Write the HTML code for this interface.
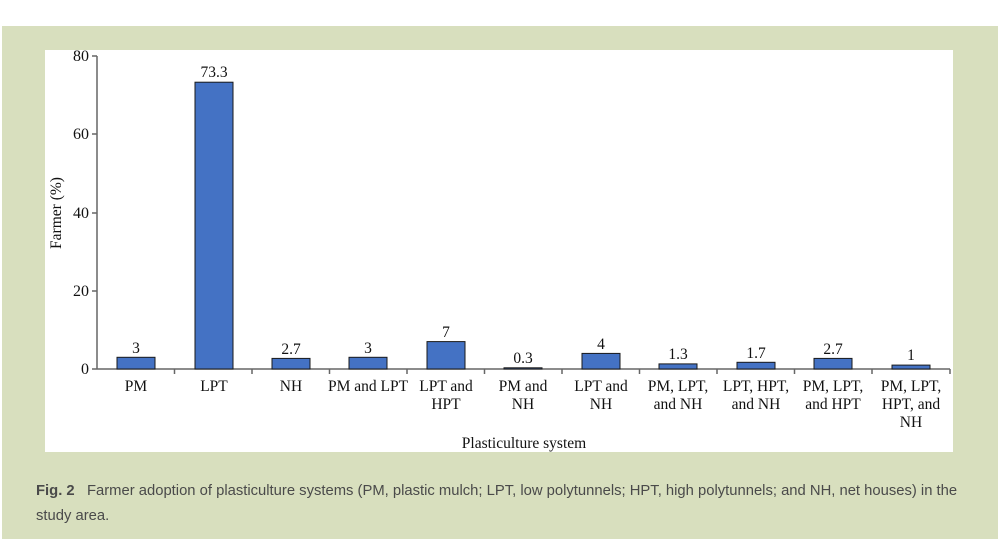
<!DOCTYPE html>
<html><head><style>
body{margin:0;width:1000px;height:539px;background:#fff;position:relative;overflow:hidden}
.g{position:absolute;left:2px;top:26px;width:996px;height:513px;background:#d8dfbe}
.cap{position:absolute;left:36px;top:479px;width:950px;font-family:"Liberation Sans",sans-serif;font-size:14.8px;color:#4a4a4a;line-height:25px;white-space:nowrap}
</style></head><body>
<div class="g"></div>
<svg style="position:absolute;left:0;top:0" width="1000" height="539" font-family="Liberation Serif,serif" font-size="15.5">
<rect x="45" y="50" width="908" height="402" fill="#fff"/>
<g stroke="#666" stroke-width="1.5" fill="none">
<line x1="97" y1="56" x2="97" y2="369"/>
<line x1="97" y1="369" x2="950" y2="369"/>
<line x1="92" y1="56" x2="97" y2="56"/><line x1="92" y1="134" x2="97" y2="134"/><line x1="92" y1="213" x2="97" y2="213"/><line x1="92" y1="291" x2="97" y2="291"/><line x1="92" y1="369" x2="97" y2="369"/>
<line x1="174.5" y1="369" x2="174.5" y2="374"/><line x1="252" y1="369" x2="252" y2="374"/><line x1="329.5" y1="369" x2="329.5" y2="374"/><line x1="407" y1="369" x2="407" y2="374"/><line x1="484.5" y1="369" x2="484.5" y2="374"/><line x1="562" y1="369" x2="562" y2="374"/><line x1="639.5" y1="369" x2="639.5" y2="374"/><line x1="717" y1="369" x2="717" y2="374"/><line x1="794.5" y1="369" x2="794.5" y2="374"/><line x1="872" y1="369" x2="872" y2="374"/><line x1="950" y1="369" x2="950" y2="374"/>
</g>
<g text-anchor="end" fill="#111" font-size="16"><text x="89" y="61">80</text><text x="89" y="139">60</text><text x="89" y="218">40</text><text x="89" y="296">20</text><text x="89" y="374">0</text></g>
<g fill="#4472c4" stroke="#1a1a1a" stroke-width="1">
<rect x="117" y="357.3" width="38" height="11.7"/>
<rect x="195" y="82.2" width="38" height="286.8"/>
<rect x="272" y="358.4" width="38" height="10.6"/>
<rect x="349" y="357.3" width="38" height="11.7"/>
<rect x="427" y="341.6" width="38" height="27.4"/>
<rect x="504" y="367.8" width="38" height="1.2"/>
<rect x="582" y="353.4" width="38" height="15.6"/>
<rect x="659" y="363.9" width="38" height="5.1"/>
<rect x="737" y="362.3" width="38" height="6.7"/>
<rect x="814" y="358.4" width="38" height="10.6"/>
<rect x="892" y="365.1" width="38" height="3.9"/>
</g>
<g text-anchor="middle" fill="#111">
<text x="136" y="353">3</text><text x="214" y="77">73.3</text><text x="291" y="354">2.7</text><text x="368" y="353">3</text><text x="446" y="337">7</text><text x="523" y="363">0.3</text><text x="601" y="349">4</text><text x="678" y="359">1.3</text><text x="756" y="358">1.7</text><text x="833" y="354">2.7</text><text x="911" y="360">1</text>
<text x="136" y="391">PM</text><text x="214" y="391">LPT</text><text x="291" y="391">NH</text><text x="368" y="391">PM and LPT</text>
<text x="446" y="391">LPT and</text><text x="446" y="409">HPT</text>
<text x="523" y="391">PM and</text><text x="523" y="409">NH</text>
<text x="601" y="391">LPT and</text><text x="601" y="409">NH</text>
<text x="678" y="391">PM, LPT,</text><text x="678" y="409">and NH</text>
<text x="756" y="391">LPT, HPT,</text><text x="756" y="409">and NH</text>
<text x="833" y="391">PM, LPT,</text><text x="833" y="409">and HPT</text>
<text x="911" y="391">PM, LPT,</text><text x="911" y="409">HPT, and</text><text x="911" y="427">NH</text>
<text x="524" y="448">Plasticulture system</text>
<text transform="translate(61,213) rotate(-90)">Farmer (%)</text>
</g>
</svg>
<div class="cap"><b>Fig. 2</b>&nbsp;&nbsp;&nbsp;Farmer adoption of plasticulture systems (PM, plastic mulch; LPT, low polytunnels; HPT, high polytunnels; and NH, net houses) in the<br>study area.</div>
</body></html>
